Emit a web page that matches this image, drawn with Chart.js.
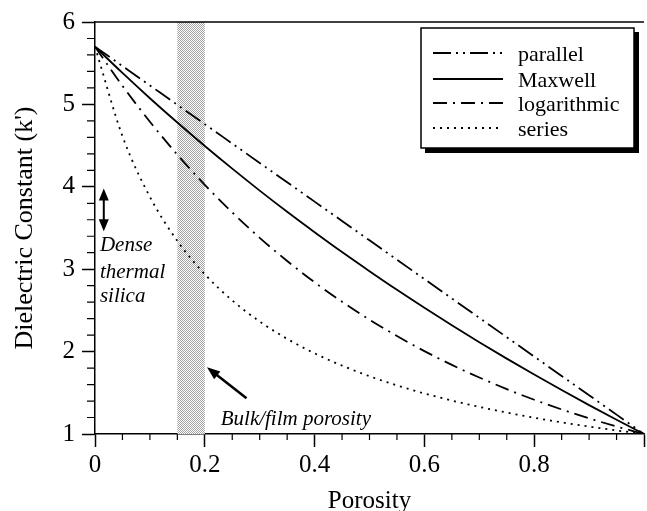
<!DOCTYPE html>
<html>
<head>
<meta charset="utf-8">
<script src="https://cdn.jsdelivr.net/npm/chart.js@4.4.1/dist/chart.umd.min.js"></script>
<style>
  html, body { margin: 0; padding: 0; background: #fff; }
  canvas { display: block; }
</style>
</head>
<body>
<canvas id="chart" width="647" height="511"></canvas>
<script>
// values
const porosity = [0, 0.05, 0.1, 0.15, 0.2, 0.25, 0.3, 0.35, 0.4, 0.45, 0.5,
                  0.55, 0.6, 0.65, 0.7, 0.75, 0.8, 0.85, 0.9, 0.95, 1];
const parallelK = [5.700, 5.465, 5.230, 4.995, 4.760, 4.525, 4.290, 4.055, 3.820, 3.585, 3.350,
                   3.115, 2.880, 2.645, 2.410, 2.175, 1.940, 1.705, 1.470, 1.235, 1.000];
const maxwellK = [5.700, 5.382, 5.075, 4.780, 4.495, 4.220, 3.954, 3.697, 3.449, 3.208, 2.976,
                  2.750, 2.532, 2.320, 2.114, 1.915, 1.721, 1.533, 1.350, 1.173, 1.000];
const logK = [5.700, 5.225, 4.790, 4.390, 4.024, 3.689, 3.381, 3.100, 2.841, 2.605, 2.387,
              2.189, 2.006, 1.839, 1.686, 1.545, 1.416, 1.298, 1.190, 1.091, 1.000];
const seriesK = [5.700, 4.615, 3.878, 3.343, 2.938, 2.621, 2.365, 2.155, 1.979, 1.830, 1.701,
                 1.590, 1.492, 1.406, 1.329, 1.260, 1.197, 1.141, 1.090, 1.043, 1.000];
const xTickLabels = ['0', '0.2', '0.4', '0.6', '0.8', ''];
const yTickLabels = ['1', '2', '3', '4', '5', '6'];
const bandRange = [0.15, 0.2];

const serif = "'Liberation Serif', 'Times New Roman', serif";

function points(ys) {
    return porosity.map((p, i) => ({ x: p, y: ys[i] }));
}

function line(label, ys, dash) {
    return {
        label: label,
        data: points(ys),
        borderColor: '#000',
        borderWidth: 1.8,
        borderDash: dash,
        pointRadius: 0,
        fill: false,
        cubicInterpolationMode: 'monotone'
    };
}

// stippled grey fill for the porosity band
function stipple(ctx) {
    const c = document.createElement('canvas');
    c.width = 2; c.height = 2;
    const g = c.getContext('2d');
    g.fillStyle = '#ffffff';
    g.fillRect(0, 0, 2, 2);
    g.fillStyle = '#a2a2a2';
    g.fillRect(0, 0, 1, 1);
    g.fillRect(1, 1, 1, 1);
    return ctx.createPattern(c, 'repeat');
}

function arrowHead(ctx, fx, fy, tx, ty, len, wid) {
    const a = Math.atan2(ty - fy, tx - fx);
    ctx.beginPath();
    ctx.moveTo(tx, ty);
    ctx.lineTo(tx - len * Math.cos(a) + wid / 2 * Math.sin(a), ty - len * Math.sin(a) - wid / 2 * Math.cos(a));
    ctx.lineTo(tx - len * Math.cos(a) - wid / 2 * Math.sin(a), ty - len * Math.sin(a) + wid / 2 * Math.cos(a));
    ctx.closePath();
    ctx.fill();
}

const decorations = {
    id: 'decorations',
    beforeDatasetsDraw(chart) {
        const { ctx, chartArea, scales: { x } } = chart;
        const x0 = x.getPixelForValue(bandRange[0]);
        const x1 = x.getPixelForValue(bandRange[1]);
        ctx.save();
        ctx.fillStyle = stipple(ctx);
        ctx.fillRect(x0, chartArea.top, x1 - x0, chartArea.bottom - chartArea.top);
        ctx.restore();
    },
    afterDraw(chart) {
        const { ctx, chartArea, scales: { x, y } } = chart;
        ctx.save();
        ctx.strokeStyle = '#000';
        ctx.fillStyle = '#000';

        // top frame line
        ctx.lineWidth = 1.5;
        ctx.beginPath();
        ctx.moveTo(chartArea.left, chartArea.top);
        ctx.lineTo(chartArea.right, chartArea.top);
        ctx.stroke();

        // minor ticks
        ctx.lineWidth = 1.2;
        ctx.beginPath();
        for (let i = 1; i < 20; i++) {
            if (i % 4 === 0) continue;
            const px = x.getPixelForValue(i * 0.05);
            ctx.moveTo(px, chartArea.bottom);
            ctx.lineTo(px, chartArea.bottom + 6);
        }
        for (let i = 1; i < 25; i++) {
            if (i % 5 === 0) continue;
            const py = y.getPixelForValue(1 + i * 0.2);
            ctx.moveTo(chartArea.left, py);
            ctx.lineTo(chartArea.left - 8, py);
        }
        ctx.stroke();

        // double arrow, dense thermal silica
        const ax = x.getPixelForValue(0.016);
        const ay0 = y.getPixelForValue(3.98);
        const ay1 = y.getPixelForValue(3.46);
        ctx.lineWidth = 2;
        ctx.beginPath();
        ctx.moveTo(ax, ay0 + 6);
        ctx.lineTo(ax, ay1 - 6);
        ctx.stroke();
        arrowHead(ctx, ax, ay1, ax, ay0, 12, 10);
        arrowHead(ctx, ax, ay0, ax, ay1, 12, 10);

        // arrow to porosity band
        const tx = x.getPixelForValue(0.276), ty = y.getPixelForValue(1.435);
        const hx = x.getPixelForValue(0.204), hy = y.getPixelForValue(1.809);
        ctx.lineWidth = 2.5;
        ctx.beginPath();
        ctx.moveTo(tx, ty);
        ctx.lineTo(hx + (tx - hx) * 0.2, hy + (ty - hy) * 0.2);
        ctx.stroke();
        arrowHead(ctx, tx, ty, hx, hy, 13, 10);

        // annotation texts
        ctx.font = 'italic 21px ' + serif;
        ctx.textAlign = 'left';
        ctx.textBaseline = 'alphabetic';
        const lx = x.getPixelForValue(0.009);
        ctx.fillText('Dense', lx, y.getPixelForValue(3.222));
        ctx.fillText('thermal', lx, y.getPixelForValue(2.896));
        ctx.fillText('silica', lx, y.getPixelForValue(2.606));
        ctx.fillText('Bulk/film porosity', x.getPixelForValue(0.229), y.getPixelForValue(1.109));

        // legend box with drop shadow
        const bx = 421, by = 28, bw = 213, bh = 120;
        ctx.fillStyle = '#fff';
        ctx.fillRect(bx, by, bw, bh);
        ctx.fillStyle = '#000';
        ctx.fillRect(bx + bw, by + 4, 5, bh + 1);
        ctx.fillRect(bx + 4, by + bh, bw + 1, 5);
        ctx.lineWidth = 1.5;
        ctx.strokeRect(bx, by, bw, bh);

        ctx.font = '22px ' + serif;
        ctx.textBaseline = 'middle';
        const rows = [53, 79, 103, 128];
        chart.data.datasets.forEach((ds, i) => {
            ctx.lineWidth = 1.8;
            ctx.setLineDash(ds.borderDash);
            ctx.beginPath();
            ctx.moveTo(433, rows[i]);
            ctx.lineTo(503, rows[i]);
            ctx.stroke();
            ctx.setLineDash([]);
            ctx.fillText(ds.label, 518, rows[i] + 2);
        });
        ctx.restore();
    }
};

const chart = new Chart(document.getElementById('chart').getContext('2d'), {
    type: 'line',
    data: {
        datasets: [
            line('parallel', parallelK, [18, 5, 2, 5, 2, 5]),
            line('Maxwell', maxwellK, []),
            line('logarithmic', logK, [14, 6, 2, 6]),
            line('series', seriesK, [2, 5])
        ]
    },
    options: {
        responsive: false,
        animation: false,
        devicePixelRatio: 1,
        layout: { padding: { top: 20, right: 0, bottom: 0, left: 0 } },
        plugins: {
            legend: { display: false },
            tooltip: { enabled: false }
        },
        scales: {
            x: {
                type: 'linear',
                min: 0,
                max: 1,
                afterFit: (s) => { s.height = 77; },
                ticks: {
                    stepSize: 0.2,
                    autoSkip: false,
                    maxRotation: 0,
                    padding: 3,
                    color: '#000',
                    font: { family: serif, size: 25 },
                    callback: (v, i) => xTickLabels[i]
                },
                grid: { drawOnChartArea: false, tickLength: 13, tickColor: '#000', tickWidth: 1.5 },
                border: { color: '#000', width: 1.5 },
                title: {
                    display: true,
                    text: 'Porosity',
                    color: '#000',
                    font: { family: serif, size: 25, lineHeight: 0.8 },
                    padding: { top: 0, bottom: 0 }
                }
            },
            y: {
                type: 'linear',
                min: 1,
                max: 6,
                afterFit: (s) => { s.width = 95; },
                ticks: {
                    stepSize: 1,
                    padding: 7,
                    color: '#000',
                    font: { family: serif, size: 25 },
                    callback: (v, i) => yTickLabels[i]
                },
                grid: { drawOnChartArea: false, tickLength: 13, tickColor: '#000', tickWidth: 1.5 },
                border: { color: '#000', width: 1.5 },
                title: {
                    display: true,
                    text: "Dielectric Constant (k')",
                    color: '#000',
                    font: { family: serif, size: 26, lineHeight: 1 },
                    padding: { top: 12, bottom: 0 }
                }
            }
        }
    },
    plugins: [decorations]
});
</script>
</body>
</html>
